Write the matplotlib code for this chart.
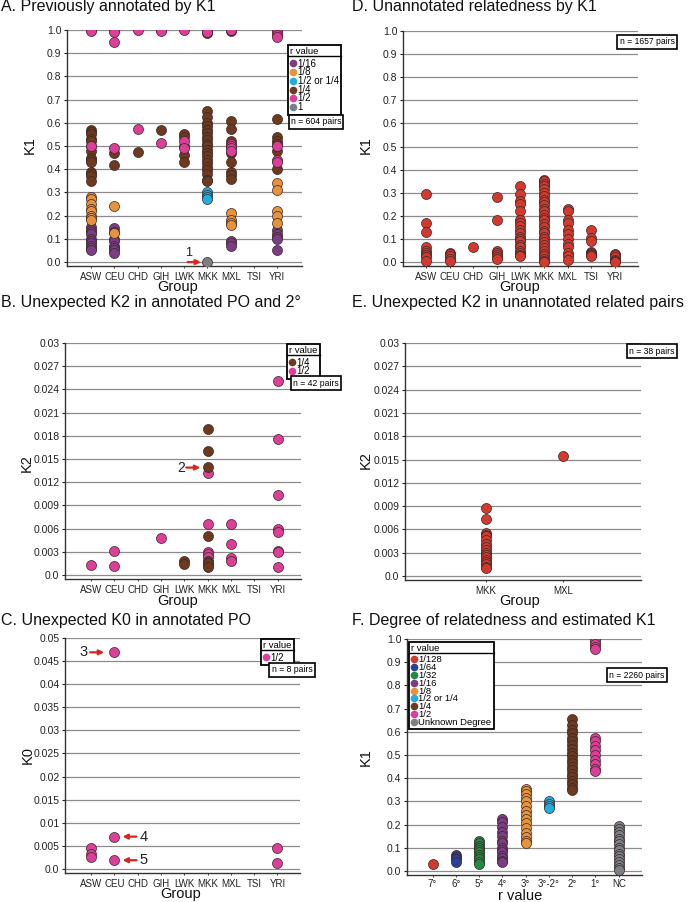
import matplotlib.pyplot as plt
from matplotlib.lines import Line2D
from matplotlib.ticker import FuncFormatter

plt.rcParams['font.family'] = ['Liberation Sans', 'DejaVu Sans']

W, H = 690, 902

groups = ['ASW', 'CEU', 'CHD', 'GIH', 'LWK', 'MKK', 'MXL', 'TSI', 'YRI']
groups_e = ['MKK', 'MXL']
degrees = ['7°', '6°', '5°', '4°', '3°', '3°-2°', '2°', '1°', 'NC']

# colours
PURPLE = '#7a3d86'
ORANGE = '#e8923a'
CYAN = '#22ade0'
BROWN = '#6e3a1f'
PINK = '#dc3e98'
GRAY = '#7b8087'
RED = '#d23a2e'
BLUE = '#2b3f9c'
GREEN = '#1f8b47'
ARROW = '#d9261c'

# ---- A: previously annotated by K1
a_1_16 = {'ASW': [0.15, 0.14, 0.13, 0.12, 0.10, 0.09, 0.08, 0.07, 0.06, 0.05],
          'CEU': [0.145, 0.13, 0.10, 0.09, 0.07, 0.06, 0.05, 0.04],
          'MXL': [0.09, 0.08, 0.07],
          'YRI': [0.14, 0.12, 0.11, 0.10, 0.05]}
a_1_8 = {'ASW': [0.28, 0.27, 0.25, 0.23, 0.22, 0.20, 0.19, 0.18],
         'CEU': [0.24, 0.125],
         'MXL': [0.21, 0.18, 0.17, 0.16],
         'YRI': [0.34, 0.31, 0.22, 0.20, 0.17]}
a_half_or_quarter = {'MKK': [0.30, 0.29, 0.28, 0.27]}
a_1_4 = {'ASW': [0.57, 0.56, 0.55, 0.53, 0.52, 0.50, 0.48, 0.45, 0.44, 0.43, 0.39, 0.38, 0.37, 0.35],
         'CEU': [0.47, 0.42],
         'CHD': [0.475],
         'GIH': [0.57],
         'LWK': [0.55, 0.54, 0.50, 0.46, 0.43],
         'MKK': [0.985, 0.65, 0.625, 0.60, 0.585, 0.57, 0.555, 0.54, 0.525, 0.51, 0.50, 0.485,
                 0.47, 0.455, 0.44, 0.425, 0.41, 0.395, 0.38, 0.355, 0.35],
         'MXL': [0.995, 0.61, 0.575, 0.52, 0.47, 0.43, 0.39, 0.375, 0.36],
         'YRI': [0.615, 0.54, 0.52, 0.51, 0.48, 0.40]}
a_1_2 = {'ASW': [1.0, 0.995, 0.50],
         'CEU': [1.0, 0.99, 0.95, 0.49],
         'CHD': [1.0, 0.575],
         'GIH': [1.0, 0.995, 0.515],
         'LWK': [1.0, 0.52, 0.49],
         'MKK': [1.0, 0.99],
         'MXL': [1.0, 0.51, 0.50, 0.49, 0.48],
         'YRI': [1.0, 0.99, 0.98, 0.97, 0.50, 0.44, 0.43]}
a_1 = {'MKK': [0.0]}

# ---- B: unexpected K2 in annotated PO and 2nd degree
b_1_2 = {'ASW': [0.0013],
         'CEU': [0.0031, 0.0012],
         'GIH': [0.0048],
         'MKK': [0.0132, 0.0066, 0.0030, 0.0027, 0.0024, 0.0013],
         'MXL': [0.0066, 0.0040, 0.0022, 0.0018],
         'YRI': [0.0251, 0.0176, 0.0104, 0.0060, 0.0056, 0.0031, 0.0030, 0.0011]}
b_1_4 = {'LWK': [0.0018, 0.0014],
         'MKK': [0.0189, 0.0160, 0.0140, 0.0050, 0.0018, 0.0016, 0.0010]}

# ---- C: unexpected K0 in annotated PO
c_1_2 = {'ASW': [0.0046, 0.0032, 0.0027],
         'CEU': [0.0469, 0.0070, 0.0019],
         'YRI': [0.0045, 0.0012]}

# ---- D: unannotated relatedness by K1
d_vals = {'ASW': [0.295, 0.17, 0.13, 0.065, 0.05, 0.04, 0.03, 0.02, 0.005],
          'CEU': [0.04, 0.035, 0.025, 0.015, 0.005],
          'CHD': [0.065],
          'GIH': [0.28, 0.18, 0.05, 0.04, 0.03, 0.02, 0.015],
          'LWK': [0.33, 0.295, 0.265, 0.25, 0.22, 0.18, 0.17, 0.155, 0.14, 0.125, 0.11, 0.10,
                  0.09, 0.075, 0.065, 0.05, 0.04, 0.03, 0.025],
          'MKK': [0.355, 0.35, 0.34, 0.33, 0.315, 0.30, 0.285, 0.27, 0.26, 0.245, 0.23, 0.22,
                  0.205, 0.19, 0.18, 0.165, 0.15, 0.135, 0.125, 0.11, 0.10, 0.085, 0.075, 0.06,
                  0.05, 0.035, 0.025, 0.015, 0.005, 0.0],
          'MXL': [0.23, 0.22, 0.18, 0.17, 0.14, 0.12, 0.10, 0.08, 0.065, 0.04, 0.025, 0.01],
          'TSI': [0.14, 0.105, 0.09, 0.045, 0.04, 0.035, 0.03, 0.025],
          'YRI': [0.035, 0.03, 0.02, 0.01, 0.005, 0.0]}

# ---- E: unexpected K2 in unannotated related pairs
e_vals = {'MKK': [0.0088, 0.0073, 0.0055, 0.0053, 0.0051, 0.0046, 0.0041, 0.0037, 0.0033,
                  0.0030, 0.0027, 0.0024, 0.0021, 0.0018, 0.0015, 0.0012, 0.0010],
          'MXL': [0.0154]}

# ---- F: degree of relatedness and estimated K1
f_vals = {'7°': [0.03],
          '6°': [0.07, 0.06, 0.05, 0.04],
          '5°': [0.13, 0.12, 0.11, 0.10, 0.09, 0.08, 0.07, 0.06, 0.05, 0.04, 0.03],
          '4°': [0.225, 0.21, 0.19, 0.17, 0.15, 0.13, 0.12, 0.10, 0.09, 0.08, 0.065, 0.055, 0.045, 0.04],
          '3°': [0.355, 0.345, 0.33, 0.315, 0.30, 0.28, 0.26, 0.24, 0.225, 0.205, 0.185, 0.165,
                 0.145, 0.13, 0.12],
          '3°-2°': [0.30, 0.29, 0.28, 0.27],
          '2°': [0.655, 0.63, 0.61, 0.595, 0.575, 0.56, 0.545, 0.525, 0.51, 0.495, 0.48, 0.465,
                 0.45, 0.435, 0.42, 0.405, 0.39, 0.375, 0.36, 0.35],
          '1°': [1.0, 0.99, 0.98, 0.965, 0.955, 0.575, 0.56, 0.54, 0.52, 0.50, 0.48, 0.46, 0.44, 0.43],
          'NC': [0.195, 0.18, 0.17, 0.155, 0.14, 0.13, 0.115, 0.10, 0.09, 0.075, 0.065, 0.05,
                 0.04, 0.025, 0.015, 0.005]}
f_labels = ['1/128', '1/64', '1/32', '1/16', '1/8', '1/2 or 1/4', '1/4', '1/2', 'Unknown Degree']
f_colors = [RED, BLUE, GREEN, PURPLE, ORANGE, CYAN, BROWN, PINK, GRAY]


fig = plt.figure(figsize=(W / 100, H / 100), dpi=100)


def px_axes(l, t, r, b):
    return fig.add_axes([l / W, 1 - b / H, (r - l) / W, (b - t) / H])


def ftext(x, y, s, **kw):
    return fig.text(x / W, 1 - y / H, s, **kw)


def setup(ax, cats, xlim, ylim, yticks, fmt):
    ax.set_xlim(*xlim)
    ax.set_ylim(*ylim)
    ax.set_xticks(range(1, len(cats) + 1))
    ax.set_xticklabels(cats)
    ax.set_yticks(yticks)
    ax.yaxis.set_major_formatter(FuncFormatter(fmt))
    ax.grid(axis='y', color='#8c8c8c', lw=0.9)
    ax.set_axisbelow(True)
    for s in ['top', 'right']:
        ax.spines[s].set_visible(False)
    for s in ['left', 'bottom']:
        ax.spines[s].set_color('#333333')
        ax.spines[s].set_linewidth(1.0)
    ax.tick_params(axis='y', labelsize=7.5, length=2, width=0.8, pad=2, colors='#222222')
    ax.tick_params(axis='x', labelsize=7, length=1.5, width=0.6, pad=2.5, colors='#222222')


def dots(ax, cats, data, color):
    for g, vals in data.items():
        x = [cats.index(g) + 1] * len(vals)
        ax.scatter(x, vals, s=52, c=color, edgecolors='#3a2626', linewidths=0.5, zorder=3)


def r_legend(ax, labels, colors, x, y, fs=7):
    handles = [Line2D([], [], ls='', marker='o', ms=4.5, mfc=c, mec=c) for c in colors]
    leg = ax.legend(handles, labels, title='r value', loc='upper left',
                    bbox_to_anchor=(x / W, 1 - y / H), bbox_transform=fig.transFigure,
                    borderaxespad=0, frameon=True, fancybox=False, framealpha=1,
                    edgecolor='black', fontsize=fs, title_fontsize=6.8,
                    handlelength=0.5, handletextpad=0.25, labelspacing=-0.13,
                    handleheight=0.5, borderpad=0.25, alignment='left')
    leg._legend_box.sep = 1.5  # keep the header clear of the first row
    leg.get_frame().set_linewidth(1.3)
    leg.set_zorder(10)
    return leg


def n_box(s, cx, cy):
    ftext(cx, cy, s, ha='center', va='center', fontsize=6.2, zorder=10,
          bbox=dict(boxstyle='square,pad=0.25', fc='white', ec='black', lw=1.2))


def red_arrow(ax, tail, head):
    ax.annotate('', xy=head, xytext=tail,
                arrowprops=dict(arrowstyle='-|>', color=ARROW, lw=1.6, mutation_scale=7,
                                shrinkA=0, shrinkB=0), zorder=5)


fmt1 = lambda v, p: f'{v:.1f}'
fmtg = lambda v, p: '0.0' if v == 0 else f'{v:g}'
k1_ticks = [i / 10 for i in range(11)]
k2_ticks = [i * 0.003 for i in range(11)]
k0_ticks = [i * 0.005 for i in range(11)]

# A
axA = px_axes(67, 30, 302, 266)
setup(axA, groups, (-0.03, 10.06), (-0.017, 1.0), k1_ticks, fmt1)
for data, col in [(a_1_16, PURPLE), (a_1_8, ORANGE), (a_half_or_quarter, CYAN),
                  (a_1_4, BROWN), (a_1_2, PINK), (a_1, GRAY)]:
    dots(axA, groups, data, col)
red_arrow(axA, (5.15, 0.0), (5.72, 0.0))
axA.text(5.2, 0.012, '1', fontsize=9, ha='center', va='bottom', color='#222222')
legA = r_legend(axA, ['1/16', '1/8', '1/2 or 1/4', '1/4', '1/2', '1'],
                [PURPLE, ORANGE, CYAN, BROWN, PINK, GRAY], 288, 45)
n_box('n = 604 pairs', 316, 122)

# D
axD = px_axes(403, 31, 638, 266)
setup(axD, groups, (0.03, 9.98), (-0.017, 1.0), k1_ticks, fmt1)
dots(axD, groups, d_vals, RED)
n_box('n = 1657 pairs', 647, 42)

# B
axB = px_axes(65, 343, 301, 579)
setup(axB, groups, (-0.12, 10.0), (-0.0005, 0.03), k2_ticks, fmtg)
dots(axB, groups, b_1_2, PINK)
dots(axB, groups, b_1_4, BROWN)
red_arrow(axB, (5.08, 0.0139), (5.68, 0.0139))
axB.text(4.85, 0.0139, '2', fontsize=10, ha='center', va='center', color='#222222')
legB = r_legend(axB, ['1/4', '1/2'], [BROWN, PINK], 287, 344)
n_box('n = 42 pairs', 316, 383)

# E
axE = px_axes(405, 343, 641, 580)
setup(axE, groups_e, (-0.05, 3.01), (-0.0005, 0.03), k2_ticks, fmtg)
dots(axE, groups_e, e_vals, RED)
n_box('n = 38 pairs', 652, 351)

# C
axC = px_axes(65, 638, 300, 873)
setup(axC, groups, (-0.12, 9.97), (-0.00087, 0.05), k0_ticks, fmtg)
dots(axC, groups, c_1_2, PINK)
red_arrow(axC, (0.96, 0.0469), (1.56, 0.0469))
axC.text(0.68, 0.0469, '3', fontsize=10.5, ha='center', va='center', color='#222222')
red_arrow(axC, (2.95, 0.0070), (2.35, 0.0070))
axC.text(3.25, 0.0070, '4', fontsize=10.5, ha='center', va='center', color='#222222')
red_arrow(axC, (2.95, 0.0019), (2.35, 0.0019))
axC.text(3.25, 0.0019, '5', fontsize=10.5, ha='center', va='center', color='#222222')
legC = r_legend(axC, ['1/2'], [PINK], 261, 639)
n_box('n = 8 pairs', 292, 670)

# F
axF = px_axes(407, 639, 642, 875)
setup(axF, degrees, (-0.1, 10.0), (-0.017, 1.0), k1_ticks, fmt1)
axF.tick_params(axis='x', pad=1.5)
for deg, col in zip(degrees, f_colors):
    dots(axF, degrees, {deg: f_vals[deg]}, col)
legF = r_legend(axF, f_labels, f_colors, 409, 642, fs=6.8)
n_box('n = 2260 pairs', 637, 675)

# titles and axis labels
tkw = dict(fontsize=11.5, ha='left', va='center', color='#111111')
ftext(1, 7, 'A. Previously annotated by K1', **tkw)
ftext(352, 7, 'D. Unannotated relatedness by K1', **tkw)
ftext(1, 302, 'B. Unexpected K2 in annotated PO and 2°', **tkw)
ftext(352, 302, 'E. Unexpected K2 in unannotated related pairs', **tkw)
ftext(1, 621, 'C. Unexpected K0 in annotated PO', **tkw)
ftext(352, 621, 'F. Degree of relatedness and estimated K1', **tkw)

lkw = dict(fontsize=10.5, ha='center', color='#111111')
ftext(178, 291, 'Group', va='baseline', **lkw)
ftext(520, 291, 'Group', va='baseline', **lkw)
ftext(178, 605, 'Group', va='baseline', **lkw)
ftext(520, 605, 'Group', va='baseline', **lkw)
ftext(181, 898, 'Group', va='baseline', **lkw)
ftext(520, 900, 'r value', va='baseline', **lkw)
ftext(30, 145, 'K1', rotation=90, va='center', **lkw)
ftext(366, 145, 'K1', rotation=90, va='center', **lkw)
ftext(27, 463, 'K2', rotation=90, va='center', **lkw)
ftext(366, 460, 'K2', rotation=90, va='center', **lkw)
ftext(28, 755, 'K0', rotation=90, va='center', **lkw)
ftext(366, 757, 'K1', rotation=90, va='center', **lkw)

# line under the "r value" header of each legend
fig.canvas.draw()
inv = fig.transFigure.inverted()
for leg in [legA, legB, legC, legF]:
    fb = leg.get_frame().get_window_extent()
    tb = leg.get_title().get_window_extent()
    y = tb.y0
    (x0, yy), (x1, _) = inv.transform([(fb.x0, y), (fb.x1, y)])
    fig.add_artist(Line2D([x0, x1], [yy, yy], color='black', lw=1.0, zorder=11))

fig.savefig('out.png', dpi=100)
